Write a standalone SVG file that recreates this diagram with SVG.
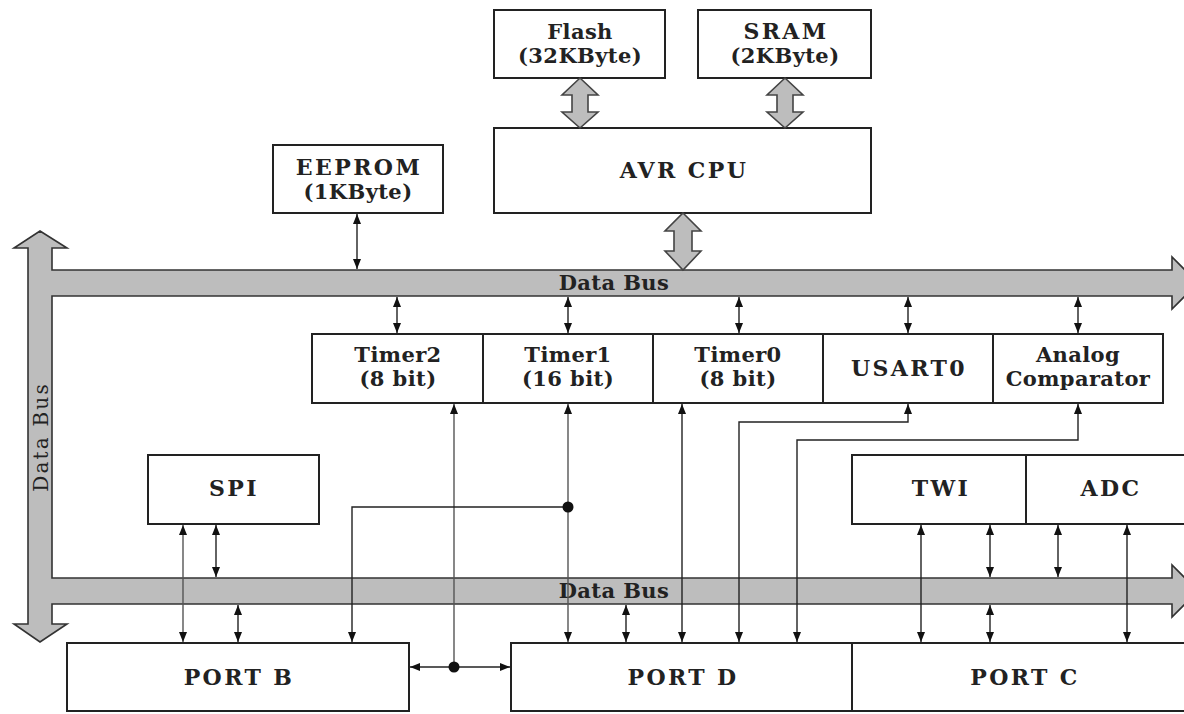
<svg xmlns="http://www.w3.org/2000/svg" width="1184" height="714" viewBox="0 0 1184 714">
<style>
.box{fill:#fff;stroke:#222;stroke-width:2}
.t{font-family:"DejaVu Serif","Liberation Serif",serif;font-weight:bold;fill:#222;text-anchor:middle}
.cap{font-size:22px;letter-spacing:2.4px}
.mix{font-size:21px;letter-spacing:0.4px}
.bus{fill:#bdbdbd;stroke:#333;stroke-width:1.6;stroke-linejoin:miter}
.wide{fill:#bdbdbd;stroke:#444;stroke-width:1.6}
.ln{fill:none;stroke:#222;stroke-width:1.4}
.lg{fill:none;stroke:#555;stroke-width:1.4}
.da{marker-start:url(#ah);marker-end:url(#ah)}
.ea{marker-end:url(#ah)}
</style>
<defs>
<marker id="ah" viewBox="0 0 10 8" refX="10" refY="4" markerWidth="10" markerHeight="8" orient="auto-start-reverse" markerUnits="userSpaceOnUse">
<path d="M0,0 L10,4 L0,8 z" fill="#111"/>
</marker>
</defs>
<rect width="1184" height="714" fill="#fff"/>

<g id="bus">
<path class="bus" d="M40,231 L67,248 L52,248 L52,270 L1172,270 L1172,257 L1198,283 L1172,309 L1172,296 L52,296 L52,578 L1172,578 L1172,565 L1198,591 L1172,617 L1172,604 L52,604 L52,624 L67,624 L40,642 L14,624 L28,624 L28,248 L14,248 Z"/>
<text class="t mix" x="614" y="290">Data Bus</text>
<text class="t mix" x="614" y="598">Data Bus</text>
<text x="0" y="0" transform="translate(48,437) rotate(-90)" style="font-family:'DejaVu Serif','Liberation Serif',serif;font-size:20px;fill:#222;text-anchor:middle;letter-spacing:2.2px">Data Bus</text>
</g>

<g id="flash">
<rect class="box" x="494" y="10" width="171" height="68"/>
<text class="t mix" x="580" y="39">Flash</text>
<text class="t mix" x="580" y="63">(32KByte)</text>
</g>
<g id="sram">
<rect class="box" x="698" y="10" width="173" height="68"/>
<text class="t cap" x="786" y="39">SRAM</text>
<text class="t mix" x="785" y="63">(2KByte)</text>
</g>
<g id="cpu">
<rect class="box" x="494" y="128" width="377" height="85"/>
<text class="t cap" x="684" y="178">AVR CPU</text>
</g>
<g id="eeprom">
<rect class="box" x="273" y="145" width="170" height="68"/>
<text class="t cap" x="359" y="175">EEPROM</text>
<text class="t mix" x="358" y="199">(1KByte)</text>
</g>
<g id="timer2">
<rect class="box" x="312" y="334" width="171" height="69"/>
<text class="t mix" x="398" y="362">Timer2</text>
<text class="t mix" x="398" y="386">(8 bit)</text>
</g>
<g id="timer1">
<rect class="box" x="483" y="334" width="170" height="69"/>
<text class="t mix" x="568" y="362">Timer1</text>
<text class="t mix" x="568" y="386">(16 bit)</text>
</g>
<g id="timer0">
<rect class="box" x="653" y="334" width="170" height="69"/>
<text class="t mix" x="738" y="362">Timer0</text>
<text class="t mix" x="738" y="386">(8 bit)</text>
</g>
<g id="usart0">
<rect class="box" x="823" y="334" width="170" height="69"/>
<text class="t cap" x="909" y="376">USART0</text>
</g>
<g id="analog">
<rect class="box" x="993" y="334" width="170" height="69"/>
<text class="t mix" x="1078" y="362">Analog</text>
<text class="t mix" x="1078" y="386">Comparator</text>
</g>
<g id="spi">
<rect class="box" x="148" y="455" width="171" height="69"/>
<text class="t cap" x="234" y="496">SPI</text>
</g>
<g id="twi">
<rect class="box" x="852" y="455" width="174" height="69"/>
<text class="t cap" x="941" y="496">TWI</text>
</g>
<g id="adc">
<rect class="box" x="1026" y="455" width="170" height="69"/>
<text class="t cap" x="1111" y="496">ADC</text>
</g>
<g id="portb">
<rect class="box" x="67" y="643" width="342" height="68"/>
<text class="t cap" x="239" y="685">PORT B</text>
</g>
<g id="portd">
<rect class="box" x="511" y="643" width="341" height="68"/>
<text class="t cap" x="683" y="685">PORT D</text>
</g>
<g id="portc">
<rect class="box" x="852" y="643" width="345" height="68"/>
<text class="t cap" x="1025" y="685">PORT C</text>
</g>

<g id="connectors">
<polygon class="wide" points="580,78 598,95 588,95 588,112 598,112 580,128 562,112 572,112 572,95 562,95"/>
<polygon class="wide" points="785,78 803,95 793,95 793,112 803,112 785,128 767,112 777,112 777,95 767,95"/>
<polygon class="wide" points="683,213 701,231 692,231 692,251 701,251 683,270 665,251 674,251 674,231 665,231"/>

<line class="ln da" x1="357" y1="214" x2="357" y2="269"/>
<line class="ln da" x1="397" y1="297" x2="397" y2="333"/>
<line class="ln da" x1="568" y1="297" x2="568" y2="333"/>
<line class="ln da" x1="739" y1="297" x2="739" y2="333"/>
<line class="ln da" x1="908" y1="297" x2="908" y2="333"/>
<line class="ln da" x1="1078" y1="297" x2="1078" y2="333"/>

<path class="lg" d="M454,404 V667" style="marker-start:url(#ah)"/>
<line class="ln da" x1="410" y1="667" x2="510" y2="667"/>
<circle cx="454" cy="667" r="5.5" fill="#111"/>

<line class="lg da" x1="568" y1="404" x2="568" y2="642"/>
<path class="ln ea" d="M568,507 H352 V642"/>
<circle cx="568" cy="507" r="5.5" fill="#111"/>

<line class="ln da" x1="682" y1="404" x2="682" y2="642"/>
<path class="ln da" d="M739,642 V422 H908 V404"/>
<path class="ln da" d="M797,642 V440 H1078 V404"/>

<line class="lg da" x1="183" y1="525" x2="183" y2="642"/>
<line class="ln da" x1="216" y1="525" x2="216" y2="577"/>
<line class="ln da" x1="238" y1="605" x2="238" y2="642"/>
<line class="ln da" x1="626" y1="605" x2="626" y2="642"/>

<line class="ln da" x1="921" y1="525" x2="921" y2="642"/>
<line class="ln da" x1="990" y1="525" x2="990" y2="577"/>
<line class="ln da" x1="990" y1="605" x2="990" y2="642"/>
<line class="ln da" x1="1058" y1="525" x2="1058" y2="577"/>
<line class="ln da" x1="1127" y1="525" x2="1127" y2="642"/>
</g>
</svg>
